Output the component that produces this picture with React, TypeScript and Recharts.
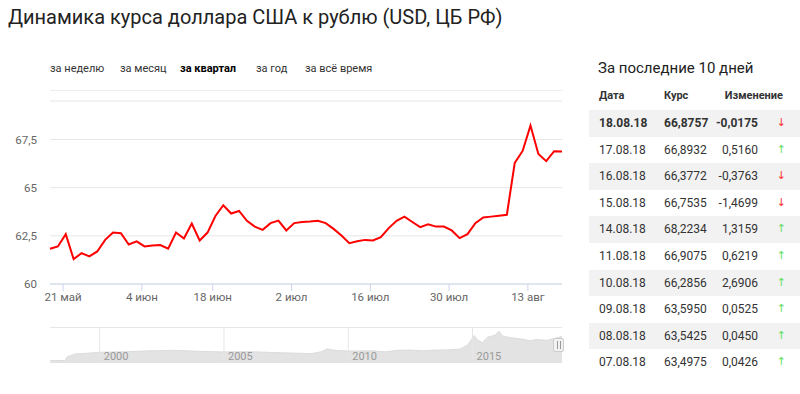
import React from "react";
import {
  LineChart,
  Line,
  XAxis,
  YAxis,
  CartesianGrid,
  AreaChart,
  Area,
  ReferenceArea,
  ReferenceLine,
} from "recharts";

// даты котировок ЦБ за квартал (2018)
const dates = [
  "18.05", "19.05", "22.05", "23.05", "24.05", "25.05", "26.05", "29.05", "30.05", "31.05",
  "01.06", "02.06", "05.06", "06.06", "07.06", "08.06", "09.06", "13.06", "14.06", "15.06",
  "16.06", "19.06", "20.06", "21.06", "22.06", "23.06", "26.06", "27.06", "28.06", "29.06",
  "30.06", "03.07", "04.07", "05.07", "06.07", "07.07", "10.07", "11.07", "12.07", "13.07",
  "14.07", "17.07", "18.07", "19.07", "20.07", "21.07", "24.07", "25.07", "26.07", "27.07",
  "28.07", "31.07", "01.08", "02.08", "03.08", "04.08", "07.08", "08.08", "09.08", "10.08",
  "11.08", "14.08", "15.08", "16.08", "17.08", "18.08",
];

const rates = [
  61.83, 61.95, 62.59, 61.29, 61.6, 61.43, 61.69, 62.29, 62.67, 62.64,
  62.05, 62.21, 61.95, 62.0, 62.02, 61.83, 62.67, 62.36, 63.14, 62.26,
  62.67, 63.53, 64.09, 63.66, 63.79, 63.28, 62.98, 62.81, 63.16, 63.29,
  62.78, 63.16, 63.22, 63.24, 63.28, 63.16, 62.86, 62.52, 62.12, 62.22,
  62.29, 62.26, 62.43, 62.9, 63.28, 63.5, 63.22, 62.95, 63.1, 62.98,
  62.98, 62.78, 62.38, 62.59, 63.16, 63.4549, 63.4975, 63.5425, 63.595, 66.2856,
  66.9075, 68.2234, 66.7535, 66.3772, 66.8932, 66.8757,
];

const tickDates = ["21.05", "04.06", "18.06", "02.07", "16.07", "30.07", "13.08"];
const tickLabels = ["21 май", "4 июн", "18 июн", "2 июл", "16 июл", "30 июл", "13 авг"];
const yTicks = [60, 62.5, 65, 67.5];

// навигатор: вся история курса
const navYears = [
  1998.0, 1998.6, 1998.7, 1998.9, 1999.0, 1999.5, 2000.0, 2001.0, 2002.0, 2003.0,
  2004.0, 2005.0, 2006.0, 2007.0, 2008.0, 2008.5, 2008.9, 2009.15, 2009.5, 2010.0,
  2011.0, 2011.5, 2012.0, 2012.5, 2013.0, 2013.5, 2014.0, 2014.5, 2014.8, 2014.97,
  2015.07, 2015.2, 2015.4, 2015.6, 2015.75, 2015.9, 2016.07, 2016.2, 2016.5, 2017.0,
  2017.3, 2017.6, 2018.0, 2018.3, 2018.6,
];
const navRates = [
  5.96, 6.3, 16, 20, 22.6, 24.5, 27, 28.2, 30.5, 31.8,
  29.4, 27.8, 28.5, 26.3, 24.5, 23.4, 28, 35.5, 31.5, 30,
  30.5, 28, 32, 32.5, 30.5, 32.5, 33, 35, 45, 60,
  69, 58, 51, 65, 67, 70, 80, 68, 64, 60,
  56, 59, 57, 61.5, 67,
];
const navTicks = [2000, 2005, 2010, 2015];

const tabs = ["за неделю", "за месяц", "за квартал", "за год", "за всё время"];
const tabLeft = [50, 120, 180, 256, 305];

const FONT = "Roboto, sans-serif";

const toDay = (s: string) => {
  const [d, m] = s.split(".").map(Number);
  return Date.UTC(2018, m - 1, d) / 86400000;
};
const dayNums = dates.map(toDay);

// позиция тика на порядковой оси (между торговыми днями)
const tickPos = tickDates.map((s) => {
  const t = toDay(s);
  let i = 0;
  while (i < dayNums.length - 1 && dayNums[i + 1] <= t) i++;
  return i + (t - dayNums[i]) / (dayNums[i + 1] - dayNums[i]);
});

const chartData = rates.map((v, i) => ({ i, value: v }));
const navData = navYears.map((y, k) => ({ year: y, value: navRates[k] }));

const yearFrac = (s: string) => 2018 + (toDay(s) - Date.UTC(2018, 0, 1) / 86400000) / 365;
const rangeStart = yearFrac(dates[0]);
const rangeEnd = yearFrac(dates[dates.length - 1]);

const fmt = (v: number) => v.toFixed(4).replace(".", ",");

const tableRows = dates
  .slice(-10)
  .map((d, k) => {
    const i = dates.length - 10 + k;
    return { date: d + ".18", rate: rates[i], change: rates[i] - rates[i - 1] };
  })
  .reverse();

const yearLabel = (text: number) => (props: any) => {
  const x = props.viewBox?.x ?? 0;
  return (
    <text x={x + 4} y={32} fill="#999" fontSize={11} fontFamily={FONT}>
      {text}
    </text>
  );
};

export default function App() {
  return (
    <div
      style={{
        position: "absolute",
        left: 0,
        top: 0,
        width: 800,
        height: 394,
        background: "#fff",
        fontFamily: FONT,
        color: "#333",
        overflow: "hidden",
      }}
    >
      <div style={{ position: "absolute", left: 0, top: 0 }}>
        <LineChart
          width={580}
          height={320}
          data={chartData}
          margin={{ top: 101, right: 18, left: 0, bottom: 0 }}
        >
          <CartesianGrid horizontal vertical={false} stroke="#e6e6e6" />
          <XAxis
            dataKey="i"
            type="number"
            domain={[0, rates.length - 1]}
            ticks={tickPos}
            interval={0}
            height={36}
            tickSize={7}
            tickMargin={2}
            stroke="#ccd6eb"
            tick={{ fill: "#666", fontSize: 11.5, fontFamily: FONT }}
            tickFormatter={(v: number) => tickLabels[tickPos.indexOf(v)] ?? ""}
          />
          <YAxis
            type="number"
            domain={[60, 69.5]}
            ticks={yTicks}
            width={50}
            axisLine={false}
            tickLine={false}
            tickSize={0}
            tickMargin={13}
            tick={{ fill: "#666", fontSize: 11.5, fontFamily: FONT }}
            tickFormatter={(v: number) => String(v).replace(".", ",")}
          />
          <Line
            type="linear"
            dataKey="value"
            stroke="#ff0000"
            strokeWidth={2}
            dot={false}
            isAnimationActive={false}
          />
        </LineChart>
      </div>

      <div
        style={{
          position: "absolute",
          left: 8,
          top: 5,
          fontSize: 20,
          color: "#222",
          whiteSpace: "nowrap",
        }}
      >
        Динамика курса доллара США к рублю (USD, ЦБ РФ)
      </div>

      {tabs.map((t, k) => (
        <div
          key={t}
          style={{
            position: "absolute",
            left: tabLeft[k],
            top: 62,
            fontSize: 11,
            whiteSpace: "nowrap",
            fontWeight: k === 2 ? 700 : 400,
            color: k === 2 ? "#000" : "#333",
          }}
        >
          {t}
        </div>
      ))}
      <div style={{ position: "absolute", left: 50, top: 90, width: 513, height: 1, background: "#eee" }} />

      <div style={{ position: "absolute", left: 50, top: 327, width: 512, height: 36, borderTop: "1px solid #e6e6e6" }}>
        <AreaChart width={512} height={35} data={navData} margin={{ top: 0, right: 0, left: 0, bottom: 0 }}>
          <XAxis dataKey="year" type="number" domain={[1998.03, 2018.6]} hide />
          <YAxis hide domain={[0, 88]} />
          <Area
            type="linear"
            dataKey="value"
            stroke="#dcdcdc"
            strokeWidth={1}
            fill="#e3e3e3"
            fillOpacity={1}
            isAnimationActive={false}
          />
          {navTicks.map((y) => (
            <ReferenceLine key={y} x={y} stroke="#e6e6e6" label={yearLabel(y)} />
          ))}
          <ReferenceArea x1={rangeStart} x2={rangeEnd} fill="#f5e6a3" fillOpacity={0.85} stroke="none" />
        </AreaChart>
      </div>
      <div
        style={{
          position: "absolute",
          left: 553,
          top: 338,
          width: 11,
          height: 14,
          background: "#f2f2f2",
          border: "1px solid #ccc",
          borderRadius: 2,
          boxSizing: "border-box",
          display: "flex",
          justifyContent: "center",
          alignItems: "center",
          gap: 2,
        }}
      >
        <div style={{ width: 1, height: 8, background: "#999" }} />
        <div style={{ width: 1, height: 8, background: "#999" }} />
      </div>

      <div style={{ position: "absolute", left: 598, top: 59, fontSize: 15, color: "#222", whiteSpace: "nowrap" }}>
        За последние 10 дней
      </div>
      <div style={{ position: "absolute", left: 599, top: 89, fontSize: 11, fontWeight: 700 }}>Дата</div>
      <div style={{ position: "absolute", left: 664, top: 89, fontSize: 11, fontWeight: 700 }}>Курс</div>
      <div style={{ position: "absolute", right: 17, top: 89, fontSize: 11, fontWeight: 700 }}>Изменение</div>

      {tableRows.map((r, k) => (
        <div
          key={r.date}
          style={{
            position: "absolute",
            left: 589,
            top: 110 + k * 26.6,
            width: 211,
            height: 26.6,
            background: k % 2 === 0 ? "#f2f2f2" : "#fff",
            fontSize: 12,
            fontWeight: k === 0 ? 700 : 400,
            lineHeight: "26.6px",
            color: "#333",
          }}
        >
          <span style={{ position: "absolute", left: 10 }}>{r.date}</span>
          <span style={{ position: "absolute", left: 75 }}>{fmt(r.rate)}</span>
          <span style={{ position: "absolute", right: 42 }}>{fmt(r.change)}</span>
          <span
            style={{
              position: "absolute",
              right: 14,
              fontFamily: "'DejaVu Sans', sans-serif",
              fontWeight: 400,
              fontSize: 11,
              color: r.change < 0 ? "#ff3030" : "#5fe05f",
            }}
          >
            {r.change < 0 ? "↓" : "↑"}
          </span>
        </div>
      ))}
    </div>
  );
}
